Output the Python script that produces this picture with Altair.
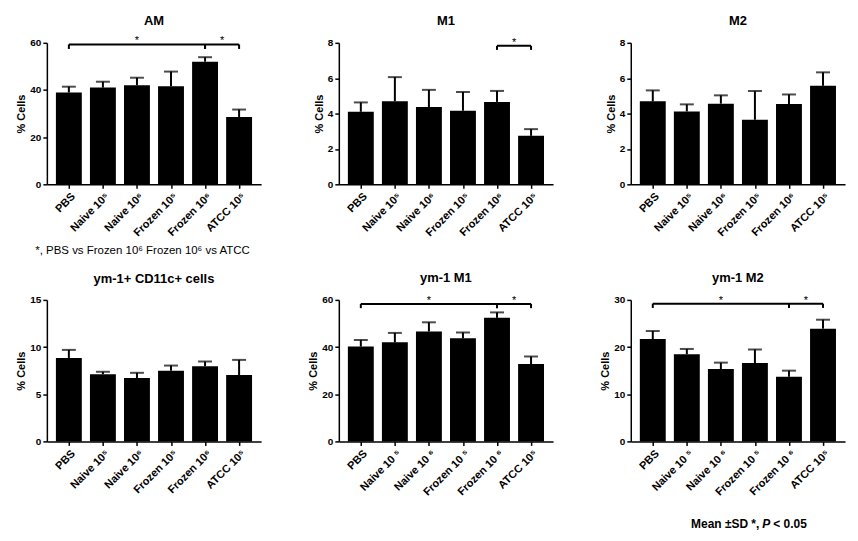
import altair as alt
import pandas as pd

FONT = "Liberation Sans"

labels_a = ["PBS", "Naive 10⁵", "Naive 10⁶", "Frozen 10⁵", "Frozen 10⁶", "ATCC 10⁵"]
labels_b = ["PBS", "Naive 10 ⁵", "Naive 10 ⁶", "Frozen 10 ⁵", "Frozen 10 ⁶", "ATCC 10⁵"]

# panel values: mean and mean+SD (top of error bar)
am_mean = [38.9, 41.0, 42.0, 41.6, 52.0, 28.5]
am_upper = [41.4, 43.5, 45.2, 47.8, 53.9, 31.7]

m1_mean = [4.10, 4.70, 4.37, 4.16, 4.66, 2.74]
m1_upper = [4.63, 6.06, 5.34, 5.22, 5.28, 3.12]

m2_mean = [4.69, 4.12, 4.56, 3.65, 4.54, 5.57]
m2_upper = [5.31, 4.52, 5.03, 5.27, 5.08, 6.33]

cd11_mean = [8.85, 7.13, 6.71, 7.48, 7.97, 7.03]
cd11_upper = [9.70, 7.38, 7.27, 8.04, 8.47, 8.64]

ym1m1_mean = [40.2, 42.0, 46.6, 43.7, 52.4, 32.8]
ym1m1_upper = [43.0, 46.0, 50.5, 46.2, 54.7, 36.0]

ym1m2_mean = [21.7, 18.5, 15.35, 16.6, 13.7, 23.9]
ym1m2_upper = [23.4, 19.6, 16.7, 19.5, 15.0, 25.8]

# significance brackets: (from group, to group, bracket level, tick bottom)
am_brackets = [(0, 4, 59.3, 57.4), (4, 5, 59.3, 57.4)]
m1_brackets = [(4, 5, 7.83, 7.6)]
ym1m1_brackets = [(0, 4, 58.3, 56.5), (4, 5, 58.3, 56.5)]
ym1m2_brackets = [(0, 4, 29.2, 28.3), (4, 5, 29.2, 28.3)]

footnote_am = "*, PBS vs Frozen 10⁶  Frozen 10⁶ vs ATCC"
footnote_stats = ["Mean ±SD *,", "P", "< 0.05"]

W, H = 215, 142


def panel(title, labels, means, uppers, ymax, ticks, brackets, toff, notes=None):
    df = pd.DataFrame({"i": list(range(len(labels))), "mean": means, "upper": uppers})
    label_expr = "[" + ",".join("'" + l + "'" for l in labels) + "][datum.value]"

    def xe(field):
        return alt.X(field, type="quantitative",
                     scale=alt.Scale(domain=[-0.5, len(labels) - 0.5], nice=False, zero=False),
                     axis=alt.Axis(values=list(range(len(labels))), labelExpr=label_expr,
                                   labelAngle=-45, labelAlign="right", labelBaseline="top",
                                   labelOverlap=False, labelFlush=False, labelFontSize=11,
                                   title=None, labelPadding=2, tickSize=4))

    def ye(field):
        return alt.Y(field, type="quantitative",
                     scale=alt.Scale(domain=[0, ymax], nice=False),
                     axis=alt.Axis(values=ticks, title="% Cells", tickSize=4, labelPadding=2,
                                   labelOverlap=False, labelFlush=False, titlePadding=3))

    base = alt.Chart(df)
    bars = base.mark_bar(width=26, color="black").encode(x=xe("i"), y=ye("mean"))
    err = base.mark_rule(color="black", strokeWidth=2).encode(x=xe("i"), y=ye("mean"), y2="upper")
    cap = base.mark_tick(color="black", thickness=2, size=14, orient="horizontal").encode(
        x=xe("i"), y=ye("upper"))
    layers = [bars, err, cap]

    if brackets:
        bdf = pd.DataFrame(brackets, columns=["i1", "i2", "level", "low"])
        bb = alt.Chart(bdf)
        hline = bb.mark_rule(color="black", strokeWidth=2).encode(
            x=xe("i1"), x2="i2", y=ye("level"))
        drops = bb.transform_fold(["i1", "i2"], as_=["end", "ix"]).mark_rule(
            color="black", strokeWidth=2).encode(x=xe("ix:Q"), y=ye("level"), y2="low")
        stars = bb.transform_calculate(mid="(datum.i1 + datum.i2) / 2").mark_text(
            text="*", fontSize=11, font=FONT, dy=0, baseline="alphabetic", color="black").encode(
            x=xe("mid"), y=ye("level"))
        layers += [hline, drops, stars]

    if notes:
        for (txt, px, py, align, style, weight, size) in notes:
            nd = pd.DataFrame({"t": [txt]})
            layers.append(alt.Chart(nd).mark_text(
                align=align, baseline="middle", font=FONT, fontSize=size, fontStyle=style,
                fontWeight=weight, color="black").encode(
                x=alt.value(px), y=alt.value(py), text="t:N"))

    return alt.layer(*layers).properties(
        width=W, height=H,
        title=alt.TitleParams(title, font=FONT, fontSize=13, fontWeight="bold",
                              anchor="middle", offset=toff, color="black"))


p_am = panel("AM", labels_a, am_mean, am_upper, 60, [0, 20, 40, 60], am_brackets, 8,
             notes=[(footnote_am, 96, 209, "center", "normal", "normal", 11.5)])
p_m1 = panel("M1", labels_a, m1_mean, m1_upper, 8, [0, 2, 4, 6, 8], m1_brackets, 9)
p_m2 = panel("M2", labels_a, m2_mean, m2_upper, 8, [0, 2, 4, 6, 8], None, 10)
p_cd = panel("ym-1+ CD11c+ cells", labels_a, cd11_mean, cd11_upper, 15, [0, 5, 10, 15], None, 9)
p_y1 = panel("ym-1 M1", labels_b, ym1m1_mean, ym1m1_upper, 60, [0, 20, 40, 60], ym1m1_brackets, 10)
p_y2 = panel("ym-1 M2", labels_b, ym1m2_mean, ym1m2_upper, 30, [0, 10, 20, 30], ym1m2_brackets, 10,
             notes=[(footnote_stats[0], 129, 225, "right", "normal", "bold", 12),
                    (footnote_stats[1], 132, 225, "left", "italic", "bold", 12),
                    (footnote_stats[2], 143, 225, "left", "normal", "bold", 12)])

chart = alt.concat(p_am, p_m1, p_m2, p_cd, p_y1, p_y2, columns=3,
                   spacing={"row": 116, "column": 78}, bounds="flush").properties(
    padding={"left": 7, "top": 5, "right": 5, "bottom": 5},
    background="white"
).configure_view(stroke=None).configure_axis(
    grid=False, domainColor="black", tickColor="black", domainWidth=1.5, tickWidth=1.5,
    labelColor="black", labelFont=FONT, labelFontSize=10, labelFontWeight="bold",
    titleColor="black", titleFont=FONT, titleFontSize=11, titleFontWeight="bold"
)

chart.save("out.html", embed_options={"renderer": "svg", "actions": False})
